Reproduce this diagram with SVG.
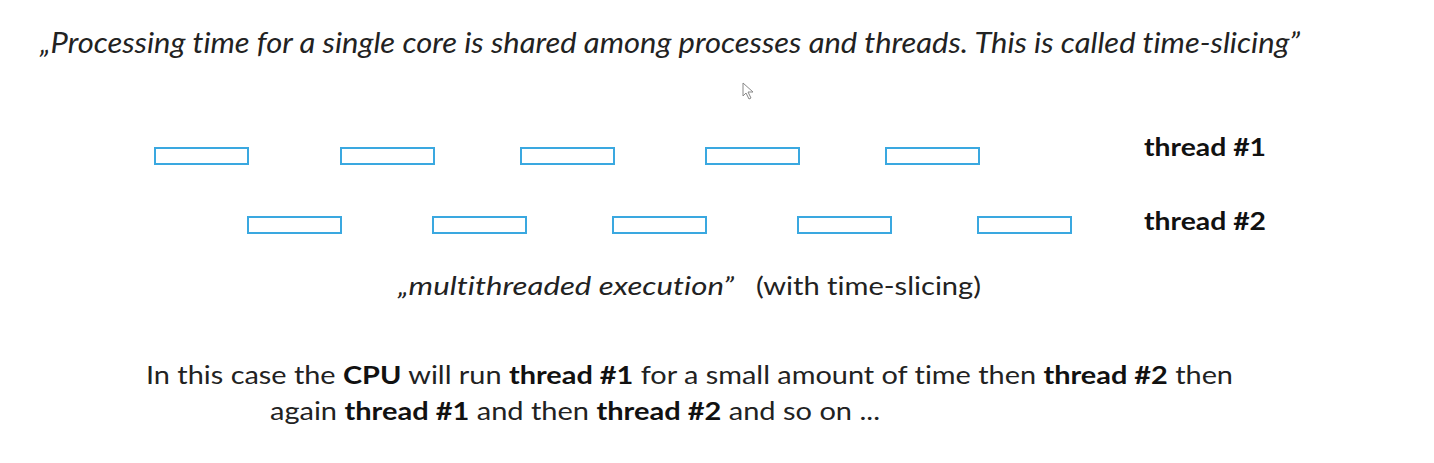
<svg xmlns="http://www.w3.org/2000/svg" width="1434" height="463" viewBox="0 0 1434 463">
<style>
.t{font-family:Lato,"Open Sans","Liberation Sans",sans-serif;fill:#222;font-variant-ligatures:none;}
.slice{fill:none;stroke:#3aa8e0;stroke-width:2;}
.b{font-weight:bold;fill:#111;}
</style>
<rect width="1434" height="463" fill="#ffffff"/>
<text id="title" class="t" x="40" y="53" font-size="28" font-style="italic" textLength="1260" lengthAdjust="spacingAndGlyphs">„Processing time for a single core is shared among processes and threads. This is called time-slicing”</text>
<g id="thread1">
<rect class="slice" x="155" y="148" width="93" height="16"/>
<rect class="slice" x="341" y="148" width="93" height="16"/>
<rect class="slice" x="521" y="148" width="93" height="16"/>
<rect class="slice" x="706" y="148" width="93" height="16"/>
<rect class="slice" x="886" y="148" width="93" height="16"/>
<text class="t b" x="1144" y="156" font-size="25" textLength="122" lengthAdjust="spacingAndGlyphs">thread #1</text>
</g>
<g id="thread2">
<rect class="slice" x="248" y="217" width="93" height="16"/>
<rect class="slice" x="433" y="217" width="93" height="16"/>
<rect class="slice" x="613" y="217" width="93" height="16"/>
<rect class="slice" x="798" y="217" width="93" height="16"/>
<rect class="slice" x="978" y="217" width="93" height="16"/>
<text class="t b" x="1144" y="230" font-size="25" textLength="122" lengthAdjust="spacingAndGlyphs">thread #2</text>
</g>
<g id="caption">
<text class="t" x="398" y="295" font-size="25" font-style="italic" textLength="336" lengthAdjust="spacingAndGlyphs">„multithreaded execution”</text>
<text class="t" x="756" y="295" font-size="25" textLength="225" lengthAdjust="spacingAndGlyphs">(with time-slicing)</text>
</g>
<g id="explanation">
<text class="t" x="146" y="384" font-size="25" textLength="1087" lengthAdjust="spacingAndGlyphs">In this case the <tspan class="b">CPU</tspan> will run <tspan class="b">thread #1</tspan> for a small amount of time then <tspan class="b">thread #2</tspan> then</text>
<text class="t" x="270" y="420" font-size="25" textLength="610" lengthAdjust="spacingAndGlyphs">again <tspan class="b">thread #1</tspan> and then <tspan class="b">thread #2</tspan> and so on ...</text>
</g>
<g id="cursor">
<path d="M743 83 L743 96 L746 93 L749 99 L751 98 L748 92 L753 92 Z" fill="#fff" stroke="#888" stroke-width="1"/>
</g>
</svg>
